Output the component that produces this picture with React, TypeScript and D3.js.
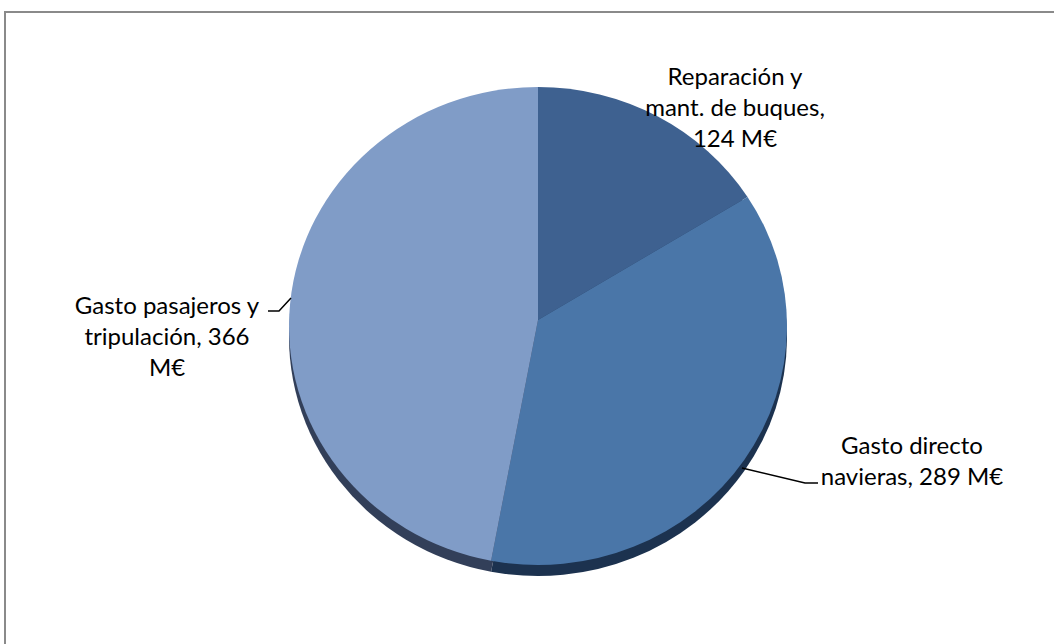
import React from "react";
import * as d3 from "d3";

const categories = ["Reparación y mant. de buques", "Gasto directo navieras", "Gasto pasajeros y tripulación"];
const values = [124, 289, 366];
const labelLines = [
  ["Reparación y", "mant. de buques,", `${values[0]} M€`],
  ["Gasto directo", `navieras, ${values[1]} M€`],
  ["Gasto pasajeros y", `tripulación, ${values[2]}`, "M€"],
];
const topColors = ["#3e6190", "#4a76a8", "#809cc7"];
const sideColors = ["#22385a", "#1c324f", "#323f59"];

const W = 1054;
const H = 644;
const cx = 538;
const cy = 326;
const apexY = 320;
const rx = 249;
const ry = 239;
const depth = 11;

function slicePath(a0: number, a1: number, dy: number) {
  const p = (a: number) => [cx + rx * Math.sin(a), cy + dy - ry * Math.cos(a)];
  const [x0, y0] = p(a0);
  const [x1, y1] = p(a1);
  const large = a1 - a0 > Math.PI ? 1 : 0;
  return `M${cx},${apexY + dy}L${x0},${y0}A${rx},${ry} 0 ${large} 1 ${x1},${y1}Z`;
}

export default function App() {
  const pie = d3.pie<number>().sort(null).value((d) => d);
  const arcs = pie(values);
  const font = "Lato, 'Open Sans', sans-serif";
  const labelPos = [
    { x: 735, y: 75 },
    { x: 912, y: 444 },
    { x: 167, y: 304 },
  ];
  const lineH = 31;
  return (
    <svg width={W} height={H} style={{ position: "absolute", left: 0, top: 0 }}>
      <rect x={0} y={0} width={W} height={H} fill="#fff" />
      <rect x={5} y={12} width={W + 20} height={H + 20} fill="none" stroke="#8a8a8a" strokeWidth={2} />
      <g>
        {arcs.map((a, i) => (
          <path key={"s" + i} d={slicePath(a.startAngle, a.endAngle, depth)} fill={sideColors[i]} />
        ))}
        {arcs.map((a, i) => (
          <path key={"t" + i} d={slicePath(a.startAngle, a.endAngle, 0)} fill={topColors[i]} />
        ))}
      </g>
      <polyline points="742,468 805,483 818,483" fill="none" stroke="#000" strokeWidth={1.5} />
      <polyline points="268,311 279,311 291,298" fill="none" stroke="#000" strokeWidth={1.5} />
      {labelLines.map((lines, i) => (
        <text
          key={categories[i]}
          x={labelPos[i].x}
          y={labelPos[i].y}
          textAnchor="middle"
          fontFamily={font}
          fontSize={24}
          fill="#000"
        >
          {lines.map((l, j) => (
            <tspan key={j} x={labelPos[i].x} y={labelPos[i].y + j * lineH} dominantBaseline="central">
              {l}
            </tspan>
          ))}
        </text>
      ))}
    </svg>
  );
}
